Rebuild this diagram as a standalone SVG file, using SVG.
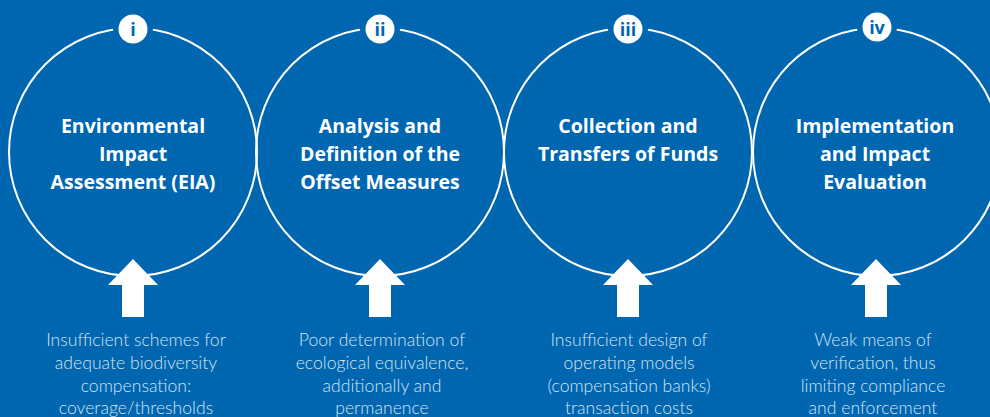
<svg xmlns="http://www.w3.org/2000/svg" width="990" height="417" viewBox="0 0 990 417">
<style>
.ring{fill:none;stroke:#fff;stroke-width:2}
.gap{fill:#0066b0}
.badge{fill:#fff}
.num{font-family:"Open Sans","Liberation Sans",sans-serif;font-weight:700;font-size:18px;fill:#0066b0;text-anchor:middle}
.title{font-family:"Open Sans","Liberation Sans",sans-serif;font-weight:700;font-size:19.5px;fill:#fff;text-anchor:middle}
.desc{font-family:Lato,"Open Sans","Liberation Sans",sans-serif;font-weight:300;font-size:17.6px;fill:#d4e4f3;text-anchor:middle}
.arrow{fill:#fff}
</style>
<rect width="990" height="417" fill="#0066b0"/>
<g id="connectors">
<path class="arrow" d="M133 259 L158 285 L144 285 L144 317 L122 317 L122 285 L108 285 Z"/>
<path class="arrow" d="M380 259 L405 285 L391 285 L391 317 L369 317 L369 285 L355 285 Z"/>
<path class="arrow" d="M628 259 L653 285 L639 285 L639 317 L617 317 L617 285 L603 285 Z"/>
<path class="arrow" d="M876 259 L901 285 L887 285 L887 317 L865 317 L865 285 L851 285 Z"/>
</g>
<g id="node1">
<circle class="ring" cx="133" cy="152" r="124"/>
<circle class="gap" cx="133" cy="29" r="20"/>
<circle class="badge" cx="133" cy="29" r="14.5"/>
<text class="num" x="133" y="35.5">i</text>
<text class="title" x="133" y="133">Environmental</text>
<text class="title" x="133" y="161">Impact</text>
<text class="title" x="133" y="189">Assessment (EIA)</text>
<text class="desc" x="136" y="345.5">Insufficient schemes for</text>
<text class="desc" x="136" y="368.5">adequate  biodiversity</text>
<text class="desc" x="136" y="391.5">compensation:</text>
<text class="desc" x="136" y="414">coverage/thresholds</text>
</g>
<g id="node2">
<circle class="ring" cx="380" cy="152" r="124"/>
<circle class="gap" cx="380" cy="29" r="20"/>
<circle class="badge" cx="380" cy="29" r="14.5"/>
<text class="num" x="380" y="35.5">ii</text>
<text class="title" x="380" y="133">Analysis and</text>
<text class="title" x="380" y="161">Definition of the</text>
<text class="title" x="380" y="189">Offset Measures</text>
<text class="desc" x="382" y="345.5">Poor determination of</text>
<text class="desc" x="382" y="368.5">ecological equivalence,</text>
<text class="desc" x="382" y="391.5">additionally and</text>
<text class="desc" x="382" y="414">permanence</text>
</g>
<g id="node3">
<circle class="ring" cx="628" cy="152" r="124"/>
<circle class="gap" cx="628" cy="29" r="20"/>
<circle class="badge" cx="628" cy="29" r="14.5"/>
<text class="num" x="628" y="35.5">iii</text>
<text class="title" x="628" y="133">Collection and</text>
<text class="title" x="628" y="161">Transfers of Funds</text>
<text class="desc" x="629" y="345.5">Insufficient design of</text>
<text class="desc" x="629" y="368.5">operating models</text>
<text class="desc" x="629" y="391.5">(compensation banks)</text>
<text class="desc" x="629" y="414">transaction costs</text>
</g>
<g id="node4">
<circle class="ring" cx="877" cy="152" r="124"/>
<circle class="gap" cx="877" cy="27" r="20"/>
<circle class="badge" cx="877" cy="27" r="14.5"/>
<text class="num" x="877" y="33.5">iv</text>
<text class="title" x="875" y="133">Implementation</text>
<text class="title" x="875" y="161">and Impact</text>
<text class="title" x="875" y="189">Evaluation</text>
<text class="desc" x="873" y="345.5">Weak means of</text>
<text class="desc" x="873" y="368.5">verification, thus</text>
<text class="desc" x="873" y="391.5">limiting compliance</text>
<text class="desc" x="873" y="414">and enforcement</text>
</g>
</svg>
